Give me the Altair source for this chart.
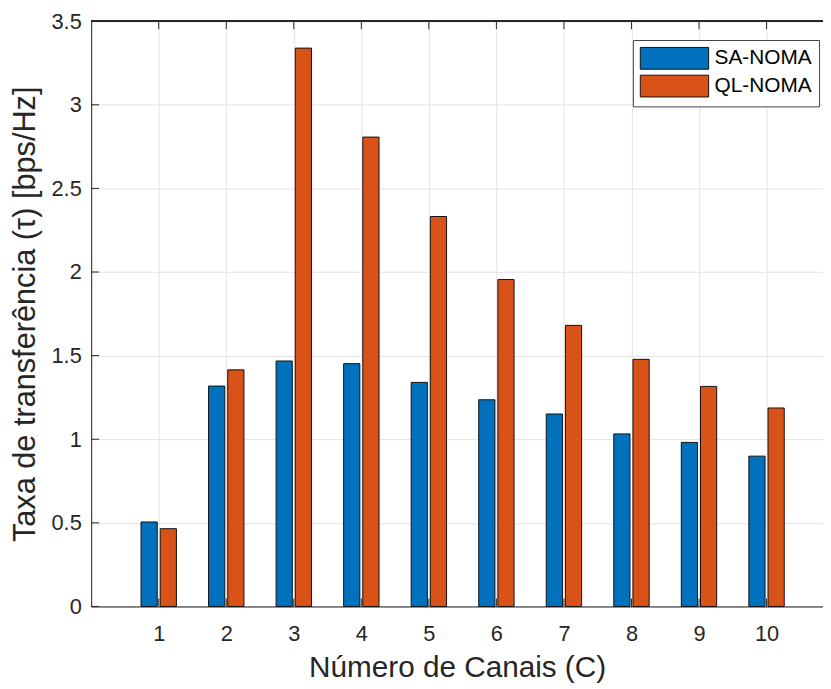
import altair as alt
import pandas as pd

channels = [1, 2, 3, 4, 5, 6, 7, 8, 9, 10]
series = ["SA-NOMA", "QL-NOMA"]
sa_noma = [0.505, 1.318, 1.468, 1.452, 1.340, 1.236, 1.151, 1.032, 0.981, 0.899]
ql_noma = [0.465, 1.415, 3.339, 2.807, 2.332, 1.955, 1.681, 1.478, 1.316, 1.187]
colors = ["#0072BD", "#D95319"]
x_ticks = [1, 2, 3, 4, 5, 6, 7, 8, 9, 10]
y_ticks = [0, 0.5, 1, 1.5, 2, 2.5, 3, 3.5]

rows = []
for c, a, b in zip(channels, sa_noma, ql_noma):
    rows.append({"channel": c, "series": series[0], "value": a})
    rows.append({"channel": c, "series": series[1], "value": b})
df = pd.DataFrame(rows)

W, H = 739, 591
FONT = "Liberation Sans"
TXT = "#262626"

xscale = alt.Scale(domain=[0, 10.836], nice=False, zero=False)
yscale = alt.Scale(domain=[0, 3.5], nice=False)

xaxis = alt.Axis(
    values=x_ticks, title="Número de Canais (C)", grid=True,
    gridColor="#e3e3e3", ticks=False, tickSize=0, labelPadding=17,
    labelFontSize=22, labelColor=TXT, titleFontSize=30, titleColor=TXT,
    titleFontWeight="normal", titleBaseline="alphabetic", titleY=71,
    domain=True, domainColor=TXT, labelFont=FONT, titleFont=FONT)
yaxis = alt.Axis(
    values=y_ticks, format="~g", title="Taxa de transferência (τ) [bps/Hz]",
    grid=True, gridColor="#e3e3e3", ticks=False, tickSize=0, labelPadding=10,
    labelFontSize=22, labelColor=TXT, titleFontSize=31, titleColor=TXT,
    titleFontWeight="normal", titleX=-50, domain=True, domainColor=TXT,
    labelFont=FONT, titleFont=FONT)

bars = alt.Chart(df).transform_calculate(
    off="datum.series == 'SA-NOMA' ? -0.142 : 0.142"
).transform_calculate(
    x0="datum.channel + datum.off - 0.12",
    x1="datum.channel + datum.off + 0.12",
).mark_bar(stroke="#111111", strokeWidth=1).encode(
    x=alt.X("x0:Q", scale=xscale, axis=xaxis),
    x2="x1:Q",
    y=alt.Y("value:Q", scale=yscale, axis=yaxis),
    y2=alt.datum(0),
    color=alt.Color("series:N", scale=alt.Scale(domain=series, range=colors),
                    legend=alt.Legend(
                        title=None, orient="none", legendX=547, legendY=19,
                        symbolType="M-3.136,-1L3.136,-1L3.136,1L-3.136,1Z",
                        symbolSize=484, symbolOffset=23.5,
                        symbolStrokeColor="#111111",
                        symbolStrokeWidth=1, labelFontSize=21, labelFont=FONT,
                        labelColor="#000000", labelOffset=29, padding=7,
                        rowPadding=1, fillColor="white", strokeColor="#444444")),
)

xt = pd.DataFrame({"x0": x_ticks})
yt = pd.DataFrame({"value": y_ticks})

xtick_bottom = alt.Chart(xt).mark_rule(color=TXT).encode(
    x=alt.X("x0:Q", scale=xscale, axis=xaxis), y=alt.value(H), y2=alt.value(H - 8))
xtick_top = alt.Chart(xt).mark_rule(color=TXT).encode(
    x=alt.X("x0:Q", scale=xscale, axis=xaxis), y=alt.value(0), y2=alt.value(8))
ytick_left = alt.Chart(yt).mark_rule(color=TXT).encode(
    y=alt.Y("value:Q", scale=yscale, axis=yaxis), x=alt.value(0), x2=alt.value(8))
top_border = alt.Chart(xt).mark_rule(color=TXT).encode(
    x=alt.value(0), x2=alt.value(W), y=alt.value(0))

chart = alt.layer(xtick_bottom, xtick_top, ytick_left, bars, top_border).properties(
    width=W, height=H,
    autosize=alt.AutoSizeParams(type="none"),
    padding={"left": 84, "top": 10, "right": 0, "bottom": 78},
).configure_view(stroke=None).configure(font=FONT)

chart.save("out.html", embed_options={"renderer": "svg", "actions": False})
